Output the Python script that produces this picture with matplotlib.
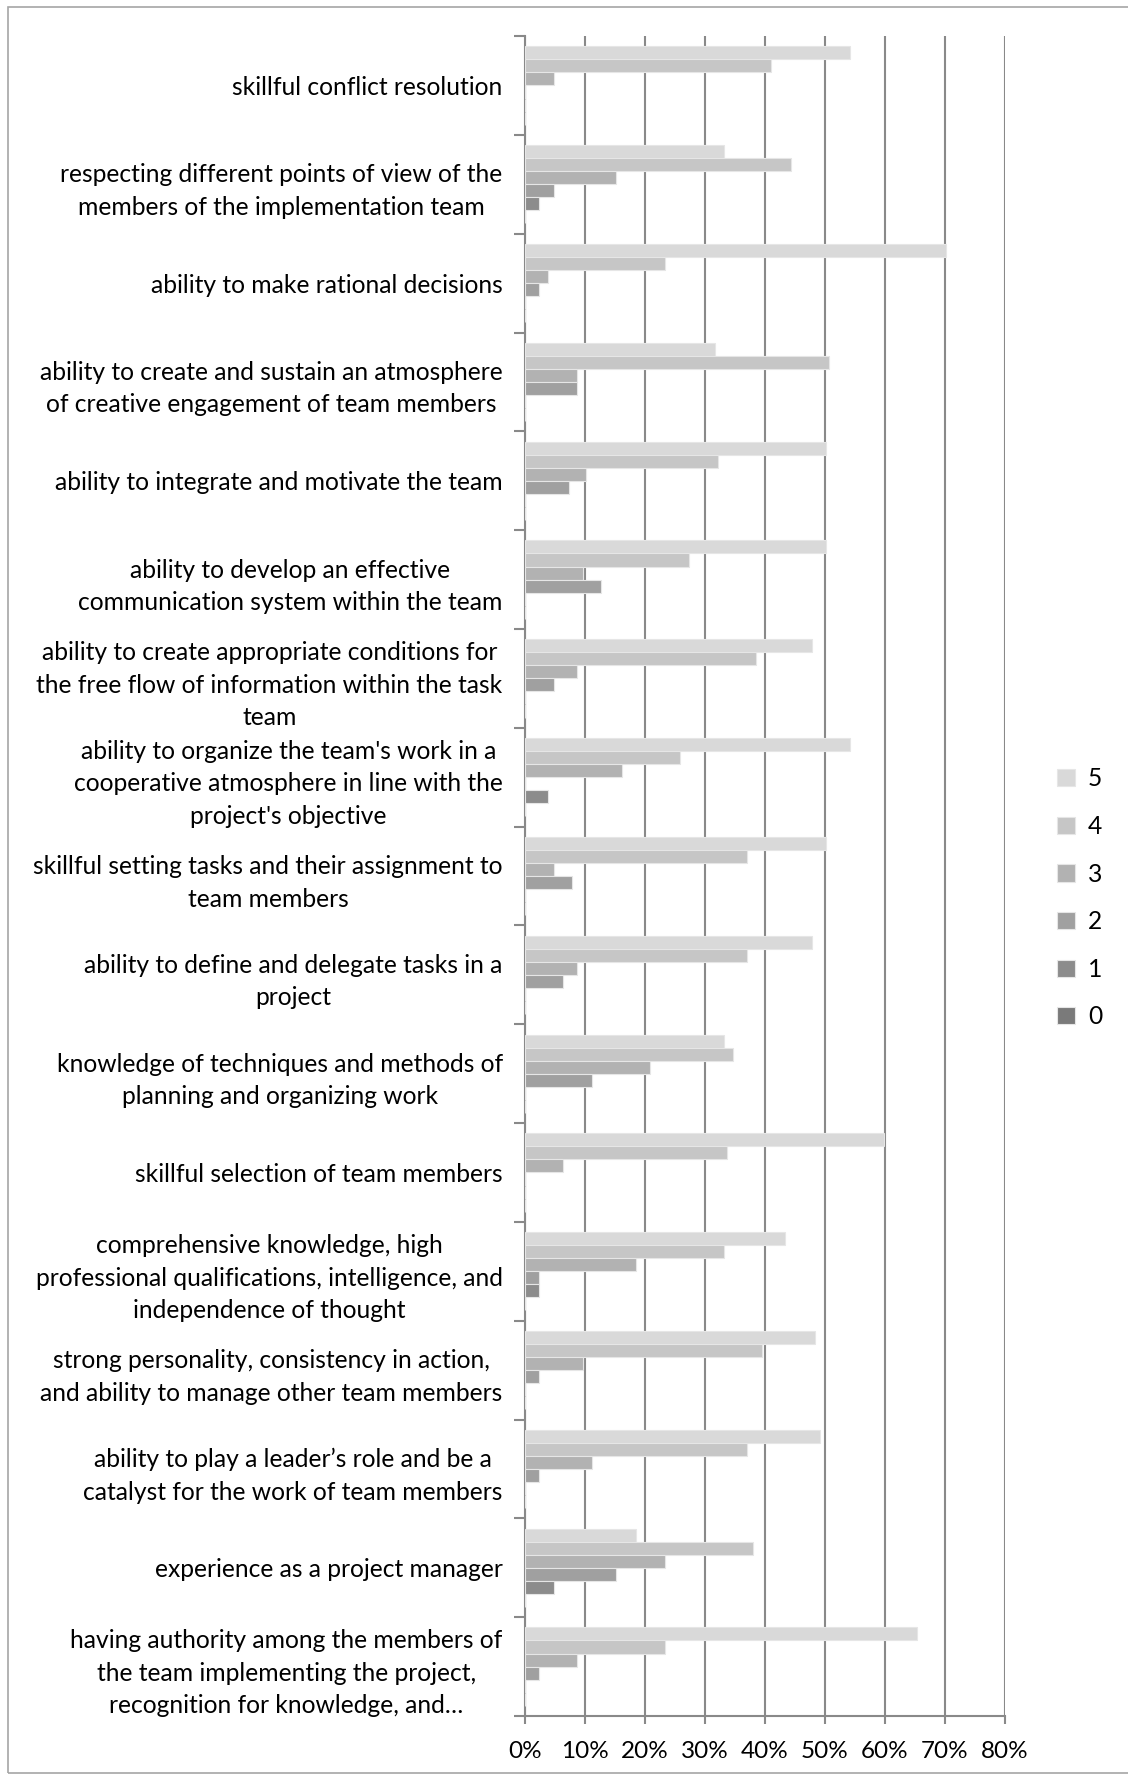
import numpy as np
import matplotlib
matplotlib.use('Agg')
import matplotlib.pyplot as plt
from matplotlib.patches import Rectangle
from matplotlib.ticker import FuncFormatter

plt.rcParams['font.family'] = ['Lato', 'DejaVu Sans']

labels = [
    "skillful conflict resolution",
    "respecting different points of view of the\nmembers of the implementation team",
    "ability to make rational decisions",
    "ability to create and sustain an atmosphere\nof creative engagement of team members",
    "ability to integrate and motivate the team",
    "ability to develop an effective\ncommunication system within the team",
    "ability to create appropriate conditions for\nthe free flow of information within the task\nteam",
    "ability to organize the team's work in a\ncooperative atmosphere in line with the\nproject's objective",
    "skillful setting tasks and their assignment to\nteam members",
    "ability to define and delegate tasks in a\nproject",
    "knowledge of techniques and methods of\nplanning and organizing work",
    "skillful selection of team members",
    "comprehensive knowledge, high\nprofessional qualifications, intelligence, and\nindependence of thought",
    "strong personality, consistency in action,\nand ability to manage other team members",
    "ability to play a leader\u2019s role and be a\ncatalyst for the work of team members",
    "experience as a project manager",
    "having authority among the members of\nthe team implementing the project,\nrecognition for knowledge, and\u2026",
]

series_names = ['5', '4', '3', '2', '1', '0']
s5 = [54.1, 33.2, 70.2, 31.7, 50.2, 50.2, 47.8, 54.1, 50.2, 47.8, 33.2, 59.9, 43.3, 48.3, 49.2, 18.5, 65.3]
s4 = [41.0, 44.4, 23.3, 50.7, 32.2, 27.3, 38.5, 25.8, 37.0, 37.0, 34.6, 33.6, 33.2, 39.5, 37.0, 38.0, 23.3]
s3 = [4.8, 15.1, 3.9, 8.7, 10.2, 9.7, 8.7, 16.1, 4.8, 8.7, 20.9, 6.3, 18.5, 9.7, 11.2, 23.3, 8.7]
s2 = [0, 4.8, 2.4, 8.7, 7.3, 12.7, 4.8, 0, 7.8, 6.3, 11.2, 0, 2.4, 2.4, 2.4, 15.1, 2.4]
s1 = [0, 2.4, 0, 0, 0, 0, 0, 3.9, 0, 0, 0, 0, 2.4, 0, 0, 4.8, 0]
s0 = [0] * 17
series = [s5, s4, s3, s2, s1, s0]
colors = ['#d9d9d9', '#c6c6c6', '#b2b2b2', '#a0a0a0', '#8c8c8c', '#7a7a7a']

fig = plt.figure(figsize=(11.28, 17.76), dpi=100)
ax = fig.add_axes([0.4654, 0.0338, 0.891 - 0.4654, 0.9797 - 0.0338])

n = len(labels)
y = np.arange(n) + 0.5
h = 0.132
for k, (vals, c, name) in enumerate(zip(series, colors, series_names)):
    ax.barh(y - 2.5 * h + k * h, vals, height=h, color=c, edgecolor='#e6e6e6',
            linewidth=0.8, label=name, zorder=3)

ax.set_xlim(0, 80)
ax.set_ylim(n, 0)
ax.set_xticks(np.arange(0, 81, 10))
ax.xaxis.set_major_formatter(FuncFormatter(lambda v, p: '%d%%' % v))
ax.set_yticks(np.arange(n + 1))
ax.set_yticklabels([])
ax.set_yticks(y, minor=True)
ax.set_yticklabels(labels, minor=True, multialignment='center', linespacing=1.5)
ax.tick_params(axis='y', which='minor', length=0, pad=16, labelsize=17.7)
ax.tick_params(axis='y', which='major', length=8, width=1.5, color='#898989')
ax.tick_params(axis='x', length=6, width=1.5, color='#898989', labelsize=17.5, pad=12)

ax.grid(axis='x', color='#898989', linewidth=1.5, zorder=0)
for s in ['top', 'right']:
    ax.spines[s].set_visible(False)
for s in ['left', 'bottom']:
    ax.spines[s].set_color('#898989')
    ax.spines[s].set_linewidth(1.5)

ax.legend(loc='center left', bbox_to_anchor=(1.063, 0.487), frameon=False,
          fontsize=17.7, handlelength=0.7, handleheight=0.7, labelspacing=1.0,
          handletextpad=0.55)

fig.patches.append(Rectangle((8 / 1128, 3 / 1776), 1.2, 1 - 10 / 1776,
                             transform=fig.transFigure, fill=False,
                             edgecolor='#a6a6a6', linewidth=1.2))

plt.savefig('out.png')
